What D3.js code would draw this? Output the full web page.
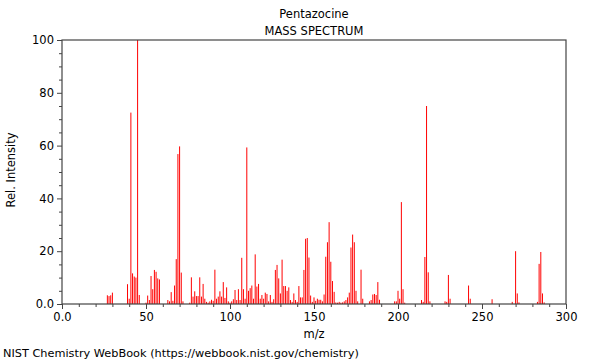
<!DOCTYPE html>
<html><head><meta charset="utf-8">
<script src="https://cdn.jsdelivr.net/npm/d3@7"></script>
<style>body{margin:0;background:#fff}svg{display:block;font-family:"DejaVu Sans",sans-serif}</style>
</head><body><svg id="c" width="600" height="360"></svg>
<script>
const title = "Pentazocine";
const subtitle = "MASS SPECTRUM";
const mz = [27,28,29,30,39,40,41,42,43,44,45,46,50,51,52,53,54,55,56,57,58,63,64,65,66,67,68,69,70,71,72,76,77,78,79,80,81,82,83,84,85,86,87,88,89,90,91,92,93,94,95,96,97,98,99,100,101,102,103,104,105,106,107,108,109,110,111,112,113,114,115,116,117,118,119,120,121,122,123,124,125,126,127,128,129,130,131,132,133,134,135,136,137,138,139,140,141,142,143,144,145,146,147,148,149,150,151,152,153,154,155,156,157,158,159,160,161,162,163,164,165,166,167,168,169,170,171,172,173,174,175,176,178,179,183,184,185,186,187,188,189,198,199,200,201,202,203,204,214,215,216,217,218,219,228,229,230,231,242,243,256,268,270,271,272,283,284,285,286,287];
const intensity = [3.3,3.0,3.3,4.3,7.5,2,72.5,11.6,10.4,10,100,3.4,0.5,3.2,1.5,10.6,5.6,12.9,12.2,9.7,9.3,1.5,1,4.5,1.2,7,17,56.8,59.7,11.9,1,0.5,10.1,2.8,4.8,3,3,10.1,2.8,7.6,2,0.8,0.5,1,1.6,1.2,13,2,2.8,4.8,2.8,8.3,2.3,6.3,1,0.5,1,1.8,5.3,1.5,5.6,1.5,17.5,5.6,2,59.3,5,6,7,2,18.8,6.6,7.6,2,3.4,2,4.3,3.8,1,3.4,0.8,1.8,12.9,14.8,9.7,4,16.8,6.8,6.8,5,6.3,1.5,0.8,4,1.5,0.8,6.8,2.5,2.5,12.9,24.7,25,17.6,3.2,0.8,2.5,1.2,2,1.6,1.6,1.0,3.6,17.9,23.4,31,16,8.7,4.6,0.6,0.5,0.8,0.5,0.6,1,1.5,2.5,4.3,21.4,26.3,23.4,5,1,13,2,1,1.5,3.6,3.8,3.4,8.3,1.6,1,1,5,2,38.6,5.6,0.5,1.5,0.8,17.8,75,12,1,1,0.8,11,2,7,2,1.8,0.8,20,4,0.6,0.8,15.2,19.7,4,0.6];
const xTicks = [0,50,100,150,200,250,300];
const xTickLabels = ["0.0","50","100","150","200","250","300"];
const yTicks = [0,20,40,60,80,100];
const yTickLabels = ["0.0","20","40","60","80","100"];

const svg = d3.select("#c");
const L=62, R=566, T=40, B=304;
const x = d3.scaleLinear().domain([0,300]).range([L,R]);
const y = d3.scaleLinear().domain([0,100]).range([B,T]);
const axisCol = "#444";
const fs = 11.5;

// bars
svg.append("g").selectAll("line").data(mz.map((m,i)=>[m,intensity[i]])).join("line")
  .attr("x1",d=>x(d[0])).attr("x2",d=>x(d[0]))
  .attr("y1",y(0)).attr("y2",d=>y(d[1]))
  .attr("stroke","#ff0000").attr("stroke-width",1);

// frame
svg.append("rect").attr("x",L).attr("y",T).attr("width",R-L).attr("height",B-T)
  .attr("fill","none").attr("stroke",axisCol).attr("stroke-width",1.2);

// x axis
const xa = d3.axisBottom(x).tickValues(xTicks).tickSize(5).tickPadding(4)
  .tickFormat((d,i)=>xTickLabels[i]);
const gx = svg.append("g").attr("transform",`translate(0,${B})`).call(xa);
gx.select(".domain").remove();
gx.selectAll("line").attr("stroke",axisCol);
gx.selectAll("text").attr("fill","#000").style("font-size",fs+"px").style("font-family","DejaVu Sans");
const gxm = svg.append("g").attr("transform",`translate(0,${B})`)
  .call(d3.axisBottom(x).tickValues(d3.range(0,301,10).filter(v=>v%50)).tickSize(3).tickFormat(""));
gxm.select(".domain").remove(); gxm.selectAll("line").attr("stroke",axisCol);

// y axis
const ya = d3.axisLeft(y).tickValues(yTicks).tickSize(5).tickPadding(3)
  .tickFormat((d,i)=>yTickLabels[i]);
const gy = svg.append("g").attr("transform",`translate(${L},0)`).call(ya);
gy.select(".domain").remove();
gy.selectAll("line").attr("stroke",axisCol);
gy.selectAll("text").attr("fill","#000").style("font-size",fs+"px").style("font-family","DejaVu Sans");
const gym = svg.append("g").attr("transform",`translate(${L},0)`)
  .call(d3.axisLeft(y).tickValues(d3.range(0,101,5).filter(v=>v%20)).tickSize(3).tickFormat(""));
gym.select(".domain").remove(); gym.selectAll("line").attr("stroke",axisCol);

// texts
const txt = (s,xx,yy,anchor,size)=>svg.append("text").attr("x",xx).attr("y",yy)
  .attr("text-anchor",anchor).style("font-size",size+"px").attr("fill","#000").text(s);
txt(title,314,18,"middle",fs);
txt(subtitle,314,35,"middle",fs);
txt("m/z",314,338,"middle",fs);
txt("NIST Chemistry WebBook (https://webbook.nist.gov/chemistry)",3,357,"start",11.3);
svg.append("text").attr("transform","translate(15,170) rotate(-90)")
  .attr("text-anchor","middle").style("font-size",fs+"px").attr("fill","#000").text("Rel. Intensity");
</script></body></html>
